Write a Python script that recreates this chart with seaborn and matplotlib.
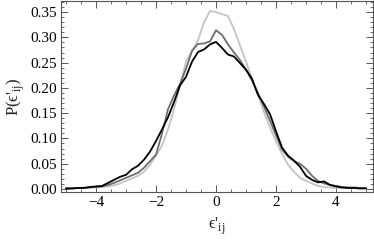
import matplotlib
matplotlib.use("Agg")
import numpy as np
import pandas as pd
import matplotlib.pyplot as plt
import seaborn as sns
from matplotlib.ticker import MultipleLocator, FormatStrFormatter

# valores
eps = [-5.0, -4.8, -4.6, -4.4, -4.2, -4.0, -3.8, -3.6, -3.4, -3.2, -3.0,
       -2.8, -2.6, -2.4, -2.2, -2.0, -1.8, -1.6, -1.4, -1.2, -1.0,
       -0.8, -0.6, -0.4, -0.2, 0.0, 0.2, 0.4, 0.6, 0.8, 1.0,
       1.2, 1.4, 1.6, 1.8, 2.0, 2.2, 2.4, 2.6, 2.8, 3.0,
       3.2, 3.4, 3.6, 3.8, 4.0, 4.2, 4.4, 4.6, 4.8, 5.0]

p_black = [0.001, 0.001, 0.002, 0.002, 0.004, 0.005, 0.006, 0.012, 0.018, 0.024, 0.028,
           0.039, 0.046, 0.058, 0.074, 0.095, 0.118, 0.142, 0.172, 0.205, 0.222,
           0.252, 0.271, 0.276, 0.286, 0.291, 0.279, 0.266, 0.262, 0.249, 0.236,
           0.218, 0.186, 0.168, 0.148, 0.114, 0.082, 0.066, 0.056, 0.044, 0.026,
           0.018, 0.013, 0.015, 0.008, 0.005, 0.003, 0.002, 0.002, 0.001, 0.001]

p_dark = [0.001, 0.001, 0.002, 0.002, 0.003, 0.004, 0.005, 0.008, 0.012, 0.017, 0.022,
          0.027, 0.032, 0.042, 0.055, 0.068, 0.110, 0.158, 0.185, 0.208, 0.238,
          0.273, 0.287, 0.288, 0.292, 0.314, 0.305, 0.286, 0.270, 0.255, 0.236,
          0.214, 0.190, 0.163, 0.135, 0.106, 0.078, 0.064, 0.055, 0.050, 0.040,
          0.026, 0.016, 0.011, 0.008, 0.006, 0.004, 0.003, 0.003, 0.002, 0.002]

p_light = [0.002, 0.002, 0.002, 0.003, 0.003, 0.003, 0.004, 0.005, 0.007, 0.011, 0.016,
           0.021, 0.026, 0.034, 0.048, 0.066, 0.086, 0.118, 0.158, 0.205, 0.252,
           0.274, 0.294, 0.330, 0.352, 0.350, 0.346, 0.342, 0.316, 0.284, 0.252,
           0.218, 0.186, 0.152, 0.122, 0.094, 0.070, 0.048, 0.034, 0.022, 0.016,
           0.011, 0.006, 0.004, 0.003, 0.002, 0.002, 0.002, 0.002, 0.002, 0.002]

df = pd.DataFrame({"eps": eps, "black": p_black, "dark": p_dark, "light": p_light})

sns.set_style("ticks")
plt.rcParams['font.family'] = ['Liberation Serif', 'DejaVu Serif']
plt.rcParams['mathtext.fontset'] = 'custom'
plt.rcParams['mathtext.rm'] = 'Liberation Serif'

fig, ax = plt.subplots(figsize=(3.74, 2.40), dpi=100)
fig.subplots_adjust(left=0.163, right=0.997, top=0.996, bottom=0.2)

# orden de dibujo: claro, gris, negro
sns.lineplot(data=df, x="eps", y="light", color="#c4c4c4", lw=1.3, ax=ax)
sns.lineplot(data=df, x="eps", y="dark", color="#6e6e6e", lw=1.3, ax=ax)
sns.lineplot(data=df, x="eps", y="black", color="#000000", lw=1.3, ax=ax)

ax.set_xlim(-5.17, 5.23)
ax.set_ylim(-0.006, 0.372)

ax.xaxis.set_major_locator(MultipleLocator(2))
ax.xaxis.set_minor_locator(MultipleLocator(0.5))
ax.yaxis.set_major_locator(MultipleLocator(0.05))
ax.yaxis.set_minor_locator(MultipleLocator(0.01))
ax.yaxis.set_major_formatter(FormatStrFormatter('%.2f'))
ax.xaxis.set_major_formatter(plt.FuncFormatter(lambda v, p: ('\u2212%d' % -v) if v < 0 else '%d' % v))

ax.tick_params(which='both', direction='in', top=True, right=True, color='#555555',
               labelsize=11, labelcolor='black')
ax.tick_params(which='major', length=5, width=0.7, pad=3)
ax.tick_params(which='minor', length=2.5, width=0.6)
for s in ax.spines.values():
    s.set_color('#555555')
    s.set_linewidth(0.8)

ax.set_xlabel("\u03f5'$_{\\mathrm{ij}}$", fontsize=12, labelpad=5)
ax.set_ylabel("P(\u03f5'$_{\\mathrm{ij}}$)", fontsize=12, labelpad=2)

fig.savefig("out.png", dpi=100)
